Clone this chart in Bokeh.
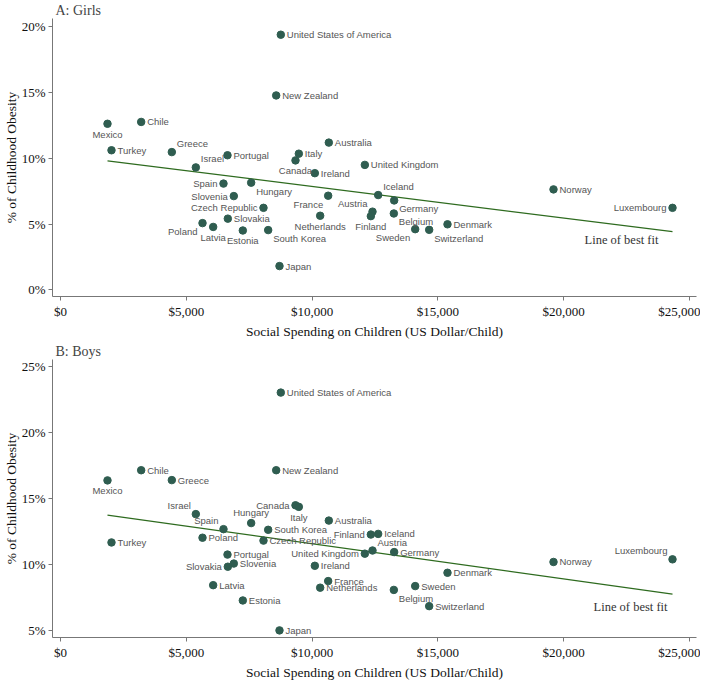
from bokeh.plotting import figure
from bokeh.models import ColumnDataSource, Range1d, Label, LabelSet, FixedTicker, CustomJSTickFormatter
from bokeh.core.properties import value
from bokeh.layouts import column
from bokeh.embed import file_html
from bokeh.resources import INLINE

# ---------------- data ----------------
countries_girls = ["United States of America", "New Zealand", "Mexico", "Chile", "Turkey", "Greece",
                   "Portugal", "Israel", "Italy", "Canada", "Ireland", "Australia", "Spain", "Hungary",
                   "Slovenia", "Czech Republic", "France", "Netherlands", "Slovakia", "Poland", "Latvia",
                   "Estonia", "South Korea", "Japan", "United Kingdom", "Iceland", "Germany", "Austria",
                   "Finland", "Belgium", "Denmark", "Sweden", "Switzerland", "Norway", "Luxembourg"]
spending_girls = [8757, 8574, 1868, 3207, 2027, 4425, 6638, 5379, 9474, 9341, 10110, 10666, 6479, 7579,
                  6889, 8069, 10640, 10322, 6651, 5645, 6069, 7247, 8255, 8705, 12098, 12627, 13263, 12402,
                  12336, 13250, 15383, 14099, 14655, 19597, 24327]
obesity_girls = [19.37, 14.76, 12.61, 12.75, 10.60, 10.46, 10.22, 9.30, 10.34, 9.83, 8.86, 11.18, 8.07, 8.14,
                 7.12, 6.23, 7.15, 5.63, 5.41, 5.07, 4.78, 4.51, 4.54, 1.81, 9.49, 7.20, 6.79, 5.94,
                 5.60, 5.80, 4.98, 4.61, 4.56, 7.63, 6.23]
labelpos_girls = [3, 3, 6, 3, 3, 2, 3, 2, 3, 6, 3, 3, 9, 4,
                  9, 9, 7, 6, 3, 7, 6, 6, 4, 3, 3, 2, 4, 10,
                  6, 4, 3, 7, 4, 3, 9]
fit_x_girls = [1868, 24327]
fit_y_girls = [9.80, 4.42]
fit_label_girls = (20830, 4.35)

countries_boys = ["United States of America", "New Zealand", "Chile", "Mexico", "Greece", "Israel", "Canada",
                  "Italy", "Hungary", "Australia", "Spain", "South Korea", "Poland", "Czech Republic", "Turkey",
                  "Portugal", "Slovenia", "Slovakia", "Ireland", "Latvia", "France", "Netherlands", "Estonia",
                  "Japan", "Finland", "Iceland", "Austria", "United Kingdom", "Germany", "Norway", "Luxembourg",
                  "Denmark", "Sweden", "Belgium", "Switzerland"]
spending_boys = [8757, 8574, 3207, 1868, 4425, 5379, 9341, 9474, 7579, 10666, 6479, 8255, 5645, 8069, 2027,
                 6638, 6889, 6651, 10110, 6069, 10640, 10322, 7247, 8705, 12336, 12627, 12402, 12098, 13263,
                 19597, 24327, 15383, 14099, 13250, 14655]
obesity_boys = [23.04, 17.15, 17.15, 16.38, 16.40, 13.82, 14.49, 14.37, 13.14, 13.33, 12.68, 12.63, 12.03,
                11.81, 11.67, 10.75, 10.07, 9.83, 9.90, 8.43, 8.74, 8.24, 7.27, 5.00, 12.27, 12.32, 11.06,
                10.82, 10.94, 10.19, 10.39, 9.37, 8.36, 8.07, 6.84]
labelpos_boys = [3, 3, 3, 6, 3, 10, 9, 6, 12, 3, 10, 3, 3, 3, 3,
                 3, 3, 9, 3, 3, 3, 3, 3, 3, 9, 3, 2, 9, 3, 3, 10,
                 3, 3, 4, 3]
fit_x_boys = [1868, 24327]
fit_y_boys = [13.74, 7.75]
fit_label_boys = (21190, 7.34)

x_ticks = [0, 5000, 10000, 15000, 20000, 25000]
y_ticks_girls = [0, 5, 10, 15, 20]
y_ticks_boys = [5, 10, 15, 20, 25]

# ---------------- style ----------------
DOT = "#2f5d50"
FIT = "#2e6b1f"
LBL = "#555555"
AX = "#777777"
SERIF = "Liberation Serif"
SANS = "Liberation Sans"

# clock position -> (x_offset, y_offset (up positive), align, baseline)
POS = {
    3: (6, 0, "left", "middle"),
    9: (-6, 0, "right", "middle"),
    6: (0, -5, "center", "top"),
    12: (0, 5, "center", "bottom"),
    2: (5, 3, "left", "bottom"),
    4: (5, -3, "left", "top"),
    7: (-5, -3, "right", "top"),
    10: (-5, 3, "right", "bottom"),
}


def panel(title, names, xs, ys, poss, fx, fy, flabel, yticks, yrange, fh):
    p = figure(width=702, frame_width=644, frame_height=fh, title=title,
               output_backend="svg", toolbar_location=None,
               x_range=Range1d(-318, 25281), y_range=Range1d(*yrange),
               min_border_top=0, min_border_left=46, min_border_right=4, min_border_bottom=0)
    p.outline_line_color = None
    p.grid.visible = False
    p.background_fill_color = "white"
    p.title.text_font = SERIF
    p.title.text_font_size = "14px"
    p.title.text_font_style = "normal"
    p.title.text_color = "#444444"
    p.title.offset = 3
    p.title.standoff = 1

    p.line(fx, fy, line_color=FIT, line_width=1.2)

    xo = [POS[k][0] for k in poss]
    yo = [POS[k][1] for k in poss]
    al = [POS[k][2] for k in poss]
    bl = [POS[k][3] for k in poss]
    src = ColumnDataSource(dict(x=xs, y=ys, name=names, xo=xo, yo=yo, al=al, bl=bl))
    p.scatter("x", "y", source=src, size=7.5, fill_color=DOT, line_color=DOT)
    labels = LabelSet(x="x", y="y", text="name", source=src, x_offset="xo", y_offset="yo",
                      text_align="al", text_baseline="bl", text_font=value(SANS),
                      text_font_size="9.5px", text_color=LBL)
    p.add_layout(labels)

    for ax in (p.xaxis[0], p.yaxis[0]):
        ax.axis_line_color = AX
        ax.major_tick_line_color = AX
        ax.minor_tick_line_color = None
        ax.major_tick_in = 0
        ax.major_tick_out = 4
        ax.major_label_text_font = SERIF
        ax.major_label_text_font_size = "13px"
        ax.major_label_text_color = "#111111"
        ax.axis_label_text_font = SERIF
        ax.axis_label_text_font_size = "13.5px"
        ax.axis_label_text_font_style = "normal"
        ax.axis_label_text_color = "#111111"
        ax.axis_label_standoff = 2
        ax.major_label_standoff = 3

    p.xaxis.ticker = FixedTicker(ticks=x_ticks)
    p.yaxis.ticker = FixedTicker(ticks=yticks)
    p.xaxis.formatter = CustomJSTickFormatter(code="return '$' + tick.toLocaleString('en-US');")
    p.yaxis.formatter = CustomJSTickFormatter(code="return tick + '%';")
    p.yaxis.major_label_orientation = "horizontal"
    p.xaxis.axis_label = "Social Spending on Children (US Dollar/Child)"
    p.yaxis.axis_label = "% of Childhood Obesity"
    p.yaxis.axis_label_standoff = 0

    p.add_layout(Label(x=flabel[0], y=flabel[1], text="Line of best fit",
                       text_font=SERIF, text_font_size="12.5px", text_color="#333333",
                       text_baseline="top", text_align="left"))
    return p


p1 = panel("A: Girls", countries_girls, spending_girls, obesity_girls, labelpos_girls,
           fit_x_girls, fit_y_girls, fit_label_girls, y_ticks_girls, (-0.5, 20.6), 278)
p2 = panel("B: Boys", countries_boys, spending_boys, obesity_boys, labelpos_boys,
           fit_x_boys, fit_y_boys, fit_label_boys, y_ticks_boys, (4.46, 25.55), 278)

p = column(p1, p2, spacing=0)
open("out.html", "w").write(file_html(p, INLINE))
